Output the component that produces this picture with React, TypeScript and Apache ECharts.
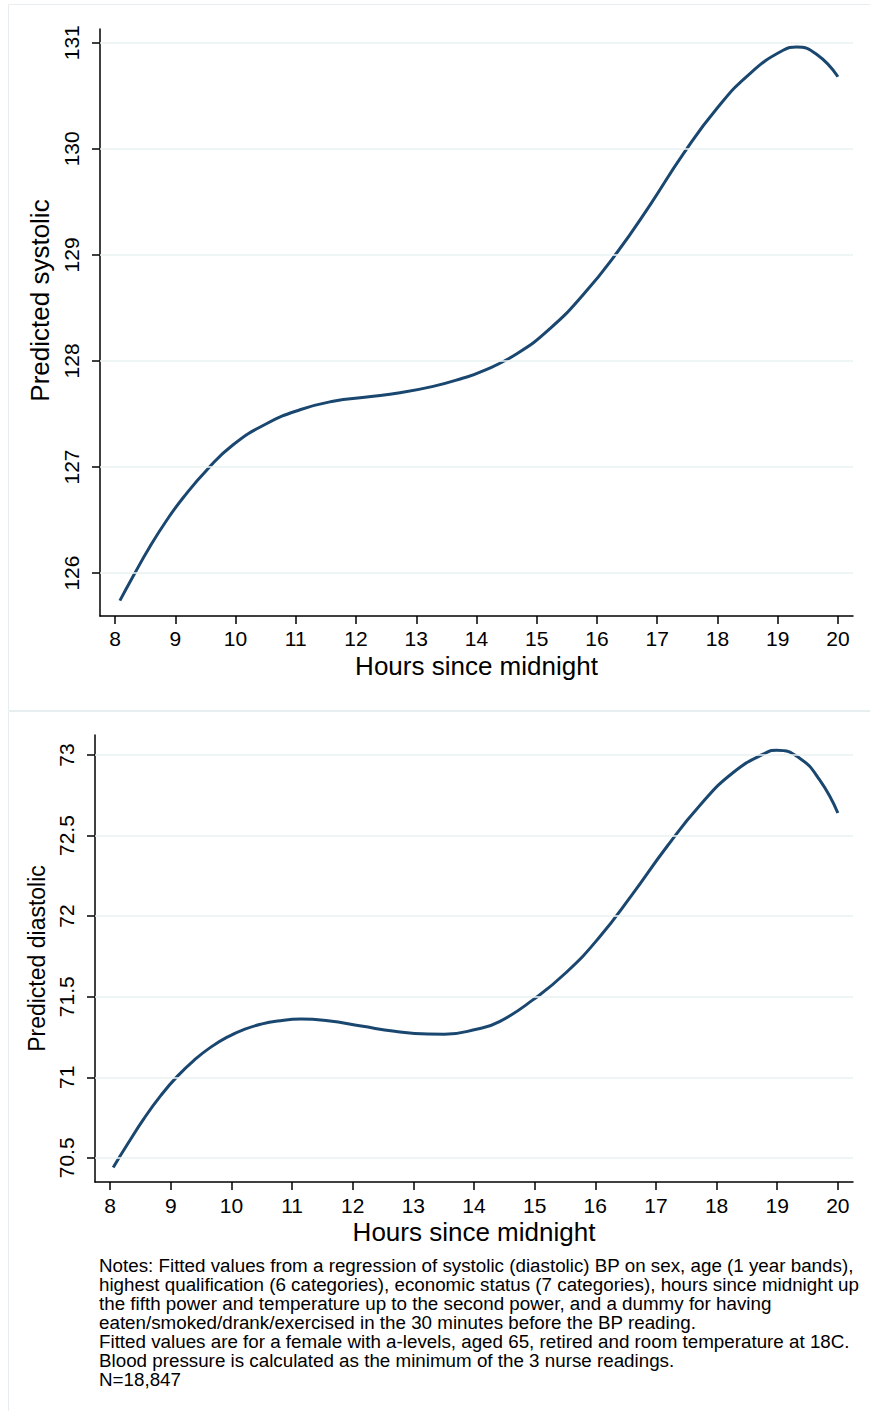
import React, { useEffect, useRef } from "react";
import * as echarts from "echarts";

// ---- Data ----
const X_TICKS = [8, 9, 10, 11, 12, 13, 14, 15, 16, 17, 18, 19, 20];

const SYS_TICKS = [126, 127, 128, 129, 130, 131];
const HOURS_SYS = [8.08, 8.3, 8.58, 8.86, 9.13, 9.52, 9.96, 10.52, 11.07, 11.62, 12.18, 12.73, 13.28, 13.73, 14.11, 14.67, 15.22, 15.77, 16.33, 16.88, 17.43, 17.99, 18.54, 19.09, 19.31, 19.65, 20.0];
const SYSTOLIC = [125.74, 125.97, 126.25, 126.5, 126.71, 126.97, 127.21, 127.41, 127.54, 127.62, 127.66, 127.7, 127.76, 127.83, 127.906, 128.068, 128.305, 128.624, 129.02, 129.47, 129.95, 130.38, 130.71, 130.93, 130.96, 130.89, 130.68];

const DIA_TICKS = [70.5, 71, 71.5, 72, 72.5, 73];
const HOURS_DIA = [8.05, 8.29, 8.56, 8.84, 9.11, 9.39, 9.66, 9.94, 10.21, 10.49, 10.76, 11.15, 11.59, 12.14, 12.69, 13.24, 13.51, 14.06, 14.42, 14.97, 15.52, 16.07, 16.62, 17.17, 17.72, 18.27, 18.82, 18.99, 19.37, 19.7, 20.0];
const DIASTOLIC = [70.44, 70.587, 70.745, 70.889, 71.007, 71.108, 71.187, 71.251, 71.297, 71.33, 71.349, 71.361, 71.35, 71.318, 71.285, 71.268, 71.267, 71.3, 71.345, 71.48, 71.65, 71.87, 72.14, 72.426, 72.685, 72.89, 73.015, 73.03, 72.98, 72.845, 72.64];

const X_TITLE = "Hours since midnight";
const SYS_TITLE = "Predicted systolic";
const DIA_TITLE = "Predicted diastolic";

const NOTES = [
  "Notes: Fitted values from a regression of systolic (diastolic) BP on sex, age (1 year bands),",
  "highest qualification (6 categories), economic status (7 categories), hours since midnight up",
  "the fifth power and temperature up to the second power, and a dummy for having",
  "eaten/smoked/drank/exercised in the 30 minutes before the BP reading.",
  "Fitted values are for a female with a-levels, aged 65, retired and room temperature at 18C.",
  "Blood pressure is calculated as the minimum of the 3 nurse readings.",
  "N=18,847",
];

const FONT = "'Liberation Sans', Arial, Helvetica, sans-serif";
const LINE_COLOR = "#1a476f";
const GRID_COLOR = "#eaf0f2";
const PANEL_COLOR = "#e6eef0";

function pairs(xs: number[], ys: number[]) {
  return xs.map((x, i) => [x, ys[i]]);
}

function inList(list: number[], v: number) {
  return list.some((t) => Math.abs(t - v) < 1e-6);
}

export default function App() {
  const ref = useRef<HTMLDivElement>(null);

  useEffect(() => {
    if (!ref.current) return;
    const chart = echarts.init(ref.current, undefined, { renderer: "svg" });

    const xAxisBase = (gridIndex: number, labelMargin: number) => ({
      type: "value",
      gridIndex,
      min: 7.75,
      max: 20.25,
      name: X_TITLE,
      nameLocation: "middle",
      nameGap: 37,
      nameTextStyle: { fontFamily: FONT, fontSize: 26, color: "#000" },
      axisLine: { show: true, onZero: false, lineStyle: { color: "#000", width: 1.5 } },
      axisTick: { show: true, length: 8, customValues: X_TICKS, lineStyle: { color: "#000", width: 1.5 } },
      axisLabel: {
        customValues: X_TICKS,
        margin: labelMargin,
        fontFamily: FONT,
        fontSize: 21,
        color: "#000",
        formatter: (v: number) => (inList(X_TICKS, v) ? String(v) : ""),
      },
      splitLine: { show: false },
    });

    const yAxisBase = (
      gridIndex: number,
      min: number,
      max: number,
      ticks: number[],
      name: string,
      nameSize: number,
      nameGap: number,
      padLeft: number
    ) => ({
      type: "value",
      gridIndex,
      min,
      max,
      name,
      nameLocation: "middle",
      nameGap,
      nameRotate: 90,
      nameTextStyle: { fontFamily: FONT, fontSize: nameSize, color: "#000", padding: [0, 0, 0, padLeft] },
      axisLine: { show: true, onZero: false, lineStyle: { color: "#000", width: 1.5 } },
      axisTick: { show: true, length: 8, customValues: ticks, lineStyle: { color: "#000", width: 1.5 } },
      axisLabel: {
        customValues: ticks,
        rotate: 90,
        margin: 18,
        fontFamily: FONT,
        fontSize: 21,
        color: "#000",
        formatter: (v: number) => (inList(ticks, v) ? String(v) : ""),
      },
      splitLine: { show: false },
    });

    const gridSeries = (idx: number, ticks: number[]) => ({
      type: "line",
      xAxisIndex: idx,
      yAxisIndex: idx,
      data: [],
      silent: true,
      z: 1,
      markLine: {
        silent: true,
        symbol: ["none", "none"],
        label: { show: false },
        lineStyle: { color: GRID_COLOR, width: 1.5, type: "solid" },
        data: ticks.map((t) => ({ yAxis: t })),
      },
    });

    const curve = (idx: number, xs: number[], ys: number[]) => ({
      type: "line",
      xAxisIndex: idx,
      yAxisIndex: idx,
      data: pairs(xs, ys),
      showSymbol: false,
      smooth: 0.5,
      z: 3,
      lineStyle: { color: LINE_COLOR, width: 3 },
      itemStyle: { color: LINE_COLOR },
    });

    const noteTexts = NOTES.map((line, i) => ({
      type: "text",
      x: 99,
      y: 1256 + i * 19,
      silent: true,
      style: {
        text: line,
        fill: "#000",
        font: `18.8px ${FONT}`,
        verticalAlign: "top",
      },
    }));

    chart.setOption({
      animation: false,
      backgroundColor: "#ffffff",
      grid: [
        { left: 100, right: 17, top: 29, height: 587, containLabel: false },
        { left: 95, right: 17, top: 735, height: 447, containLabel: false },
      ],
      xAxis: [xAxisBase(0, 12), xAxisBase(1, 13)],
      yAxis: [
        yAxisBase(0, 125.595, 131.13, SYS_TICKS, SYS_TITLE, 26, 44, 44),
        yAxisBase(1, 70.35, 73.124, DIA_TICKS, DIA_TITLE, 23, 41, 0),
      ],
      series: [
        gridSeries(0, SYS_TICKS),
        curve(0, HOURS_SYS, SYSTOLIC),
        gridSeries(1, DIA_TICKS),
        curve(1, HOURS_DIA, DIASTOLIC),
      ],
      graphic: [
        {
          type: "rect",
          silent: true,
          z: -10,
          shape: { x: 8.5, y: 4.5, width: 870, height: 706 },
          style: { fill: "none", stroke: PANEL_COLOR, lineWidth: 1 },
        },
        {
          type: "rect",
          silent: true,
          z: -10,
          shape: { x: 8.5, y: 711.5, width: 870, height: 720 },
          style: { fill: "none", stroke: PANEL_COLOR, lineWidth: 1 },
        },
        ...noteTexts,
      ],
    });

    return () => chart.dispose();
  }, []);

  return (
    <div
      ref={ref}
      style={{ position: "absolute", left: 0, top: 0, width: 870, height: 1411, background: "#fff" }}
    />
  );
}
